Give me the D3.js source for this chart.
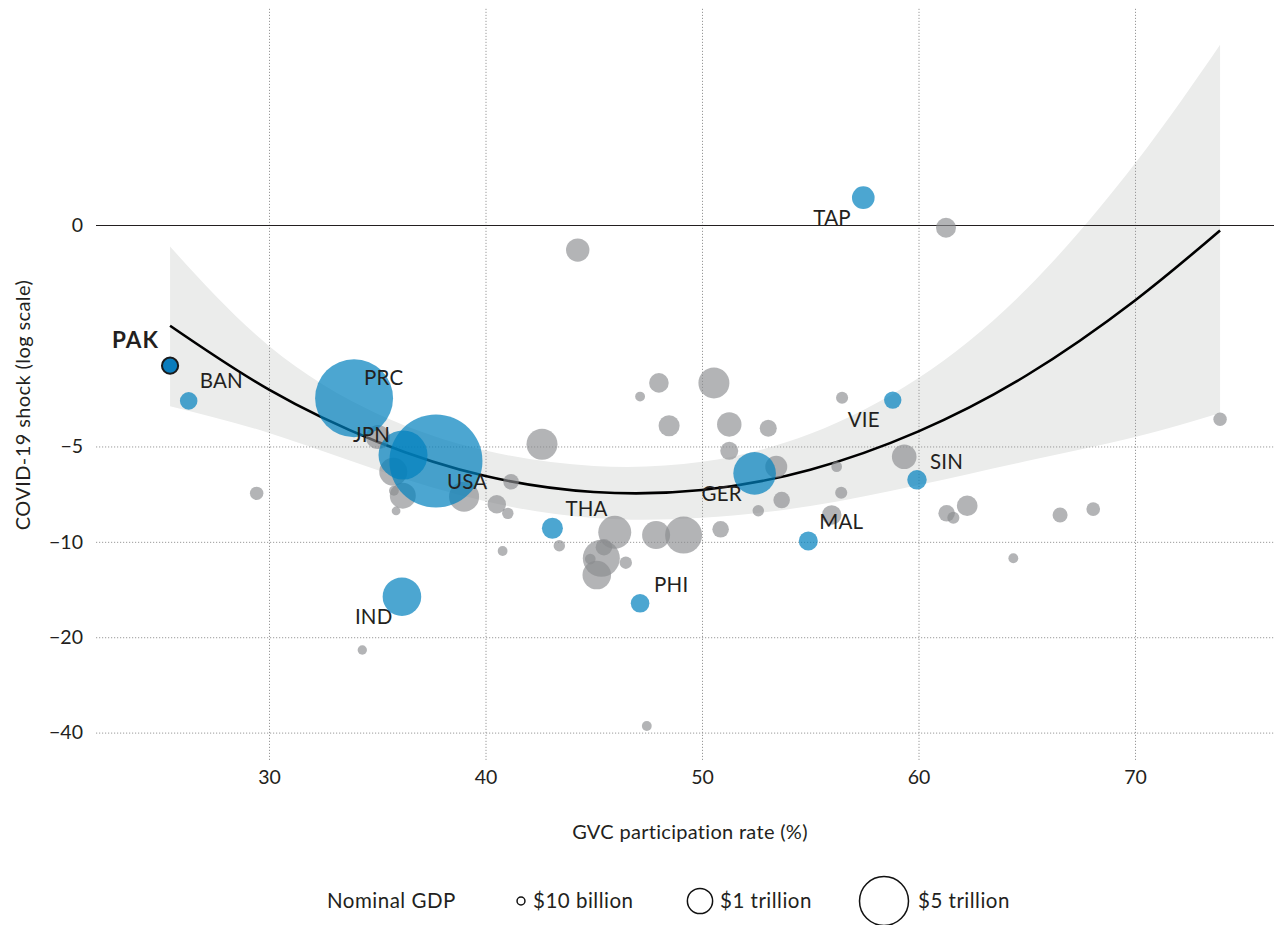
<!DOCTYPE html>
<html><head><meta charset="utf-8">
<script src="https://cdn.jsdelivr.net/npm/d3@7"></script>
<style>
body{margin:0;background:#fff;}
svg text{font-family:Lato,"Open Sans",sans-serif;fill:#231f20;}
</style>
</head><body>
<svg id="chart" width="1274" height="925"></svg>
<script>
// ---------- DATA ----------
// Highlighted economies
const hlCodes = ["PAK","BAN","PRC","JPN","USA","IND","TAP","VIE","THA","PHI","GER","MAL","SIN"];
const hlGvc   = [25.43,26.29,33.93,36.19,37.71,36.14,57.45,58.81,43.09,47.14,52.43,54.91,59.93];
const hlShock = [-2.78,-3.59,-3.52,-5.32,-5.56,-14.9,-0.82,-3.57,-9.06,-15.63,-6.08,-9.94,-6.37];
const hlGdp   = [0.28,0.36,14.0,5.0,20.5,2.87,0.75,0.35,0.61,0.43,3.62,0.46,0.49]; // $ trillion

// Other economies
const otherGvc   = [29.43,35.03,35.74,35.77,36.18,35.87,39.01,41.18,40.52,41.03,42.61,40.79,34.31,44.26,48.01,47.14,50.55,48.48,51.26,53.06,56.47,51.26,43.41,45.97,45.35,45.14,45.47,44.84,46.48,47.88,49.15,50.86,47.45,53.43,53.68,52.6,56.43,56.22,55.99,59.34,61.3,61.61,62.25,66.54,68.07,64.38,73.93,61.27];
const otherShock = [-7.03,-4.67,-6.01,-6.9,-7.15,-7.99,-7.2,-6.46,-7.61,-8.13,-4.92,-10.69,-21.95,-1.2,-3.15,-3.48,-3.15,-4.3,-4.26,-4.38,-3.51,-5.16,-10.29,-9.33,-11.27,-12.73,-10.4,-11.33,-11.64,-9.52,-9.52,-9.13,-38.13,-5.79,-7.38,-7.98,-7.0,-5.79,-8.23,-5.39,-8.13,-8.39,-7.69,-8.23,-7.88,-11.27,-4.1,-1.02];
const otherGdp   = [0.15,0.88,1.31,0.04,1.08,0.02,1.56,0.25,0.42,0.08,1.69,0.04,0.03,0.82,0.5,0.04,1.69,0.61,0.92,0.33,0.1,0.39,0.08,1.97,2.6,1.38,0.3,0.06,0.11,1.31,2.6,0.3,0.04,0.69,0.3,0.08,0.1,0.06,0.5,0.94,0.3,0.1,0.58,0.22,0.16,0.04,0.15,0.53];

// Fitted curve and confidence band
const fitGvc    = [25.43,30,35,40,45,50,55,60,65,70,73.93];
const fitShock  = [-2.08,-3.31,-4.83,-6.2,-6.96,-6.86,-5.92,-4.48,-2.98,-1.73,-1.04];
const bandUpper = [-1.17,-2.41,-3.94,-5.15,-5.76,-5.59,-4.56,-3.04,-1.59,-0.64,-0.27];
const bandLower = [-3.73,-4.53,-5.93,-7.45,-8.41,-8.4,-7.71,-6.62,-5.56,-4.67,-3.92];

// Axes
const xTickValues = [30,40,50,60,70];
const yTickValues = [-1,-5,-10,-20,-40];
const yTickLabels = ["0","\u22125","\u221210","\u221220","\u221240"];
const xTitle = "GVC participation rate (%)";
const yTitle = "COVID-19 shock (log scale)";

// Legend
const legendTitle = "Nominal GDP";
const legendGdp = [0.01,1,5];
const legendLabels = ["$10 billion","$1 trillion","$5 trillion"];

// ---------- DRAWING ----------
const svg = d3.select("#chart");
const plotL = 96, plotR = 1274, plotT = 8, plotB = 760;

const x = d3.scaleLinear().domain([30,70]).range([269,1135]);
const yLog = d3.scaleLog().domain([1,40]).range([225,732.6]);
const y = v => yLog(-v);
const r = d3.scaleSqrt().domain([0,5]).range([3,24.5]);

const band = fitGvc.map((g,i)=>({g, lo:bandLower[i], hi:bandUpper[i], f:fitShock[i]}));

// band
svg.append("path")
  .attr("d", d3.area().curve(d3.curveNatural)
    .x(d=>x(d.g)).y0(d=>y(d.lo)).y1(d=>y(d.hi))(band))
  .attr("fill","#ebeceb");

// vertical grid + x axis
const xAxis = svg.append("g").attr("transform",`translate(0,${plotB})`)
  .call(d3.axisBottom(x).tickValues(xTickValues).tickSize(-(plotB-plotT)).tickPadding(10).tickFormat(d3.format("d")));
xAxis.select(".domain").remove();
xAxis.selectAll(".tick line").attr("stroke","#9a9a9a").attr("stroke-dasharray","1.2,1.8").attr("stroke-width",1);
xAxis.selectAll(".tick text").attr("font-size",19.5).attr("fill","#231f20");

// horizontal grid + y axis (log scale)
const yAxis = svg.append("g").attr("transform",`translate(${plotL},0)`)
  .call(d3.axisLeft(yLog).tickValues(yTickValues.map(v=>-v))
    .tickSize(-(plotR-plotL)).tickPadding(13)
    .tickFormat((d,i)=>yTickLabels[i]));
yAxis.select(".domain").remove();
yAxis.selectAll(".tick line")
  .attr("stroke",(d,i)=>i===0?"#231f20":"#9a9a9a")
  .attr("stroke-width",(d,i)=>i===0?1.2:1)
  .attr("stroke-dasharray",(d,i)=>i===0?null:"1.2,1.8");
yAxis.selectAll(".tick text").attr("font-size",19.5).attr("fill","#231f20");

// fitted curve
svg.append("path")
  .attr("d", d3.line().curve(d3.curveNatural).x(d=>x(d.g)).y(d=>y(d.f))(band))
  .attr("fill","none").attr("stroke","#000").attr("stroke-width",2.6);

// other bubbles
const others = otherGvc.map((g,i)=>({g, s:otherShock[i], gdp:otherGdp[i]}))
  .sort((a,b)=>b.gdp-a.gdp);
svg.append("g").selectAll("circle").data(others).join("circle")
  .attr("cx",d=>x(d.g)).attr("cy",d=>y(d.s)).attr("r",d=>r(d.gdp))
  .attr("fill","#8a8c8f").attr("fill-opacity",0.65);

// highlighted bubbles
const hl = hlCodes.map((c,i)=>({c, g:hlGvc[i], s:hlShock[i], gdp:hlGdp[i]}));
svg.append("g").selectAll("circle").data(hl.filter(d=>d.c!=="PAK").sort((a,b)=>b.gdp-a.gdp)).join("circle")
  .attr("cx",d=>x(d.g)).attr("cy",d=>y(d.s)).attr("r",d=>r(d.gdp))
  .attr("fill","#0080be").attr("fill-opacity",0.7);
const pak = hl.find(d=>d.c==="PAK");
svg.append("circle").attr("cx",x(pak.g)).attr("cy",y(pak.s)).attr("r",r(pak.gdp))
  .attr("fill","#0a7cbc").attr("stroke","#1a1a1a").attr("stroke-width",2);

// labels (offsets are layout, not data)
const labelOffset = {PAK:[-58,-18],BAN:[11,-13],PRC:[10,-13],JPN:[-50,-13],USA:[11,28],IND:[-47,27],
  TAP:[-50,27],VIE:[-45,27],THA:[13,-12],PHI:[14,-11],GER:[-53,28],MAL:[11,-12],SIN:[13,-11]};
svg.append("g").selectAll("text").data(hl).join("text")
  .attr("x",d=>x(d.g)+labelOffset[d.c][0]).attr("y",d=>y(d.s)+labelOffset[d.c][1])
  .attr("font-size",d=>d.c==="PAK"?22.5:20.5).attr("font-weight",d=>d.c==="PAK"?700:400)
  .attr("letter-spacing",d=>d.c==="PAK"?1:0.2)
  .text(d=>d.c);

// axis titles
svg.append("text").attr("x",690).attr("y",832).attr("dy","0.35em").attr("text-anchor","middle")
  .attr("font-size",20).attr("letter-spacing",0.3).text(xTitle);
svg.append("text").attr("transform","translate(23,405) rotate(-90)").attr("dy","0.35em")
  .attr("text-anchor","middle").attr("font-size",20).attr("letter-spacing",0.4).text(yTitle);

// legend
const lg = svg.append("g");
const ly = 901;
lg.append("text").attr("x",327).attr("y",ly).attr("dy","0.35em").attr("font-size",20.5)
  .attr("letter-spacing",0.5).text(legendTitle);
const lcx = [521,700,884], ltx = [533,720,918];
legendGdp.forEach((g,i)=>{
  lg.append("circle").attr("cx",lcx[i]).attr("cy",ly).attr("r",r(g))
    .attr("fill","#fff").attr("stroke","#111").attr("stroke-width",1.5);
  lg.append("text").attr("x",ltx[i]).attr("y",ly).attr("dy","0.35em").attr("font-size",20.5)
    .attr("letter-spacing",0.5).text(legendLabels[i]);
});
</script>
</body></html>
